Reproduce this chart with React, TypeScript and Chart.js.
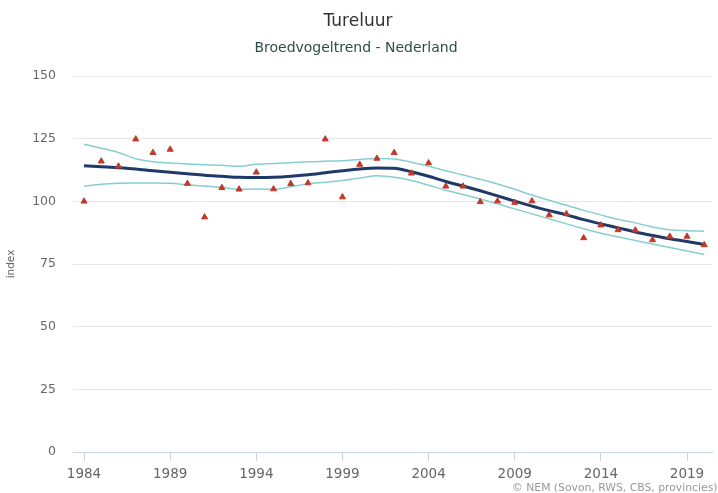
import React, { useEffect, useRef } from 'react';
import { Chart, registerables } from 'chart.js';

Chart.register(...registerables);

const years = [
  1984, 1985, 1986, 1987, 1988, 1989, 1990, 1991, 1992, 1993,
  1994, 1995, 1996, 1997, 1998, 1999, 2000, 2001, 2002, 2003,
  2004, 2005, 2006, 2007, 2008, 2009, 2010, 2011, 2012, 2013,
  2014, 2015, 2016, 2017, 2018, 2019, 2020,
];

const indexValues = [
  100, 116, 114, 124.8, 119.4, 120.7, 107.1, 93.7, 105.4, 104.8,
  111.6, 104.9, 107, 107.3, 124.8, 101.7, 114.7, 117.1, 119.4, 111.2,
  115.3, 106, 106, 99.8, 100.1, 99.5, 100.1, 94.5, 95, 85.4,
  90.5, 88.6, 88.5, 84.6, 86, 86, 82.6,
];

const trendValues = [
  114.2, 113.8, 113.4, 112.9, 112.2, 111.6, 111.0, 110.4, 110.0, 109.6,
  109.5, 109.6, 110.0, 110.6, 111.4, 112.2, 112.9, 113.3, 113.2, 111.8,
  110.0, 107.9, 106.1, 104.2, 102.2, 100.1, 98.1, 96.3, 94.6, 92.7,
  91.0, 89.4, 87.8, 86.4, 85.1, 84.0, 82.8,
];

const upperValues = [
  122.8, 121.2, 119.5, 117.0, 115.8, 115.3, 114.9, 114.6, 114.4, 114.0,
  114.8, 115.1, 115.4, 115.8, 116.0, 116.2, 116.7, 117.1, 116.9, 115.6,
  114.0, 112.2, 110.5, 108.8, 106.9, 104.8, 102.5, 100.4, 98.4, 96.4,
  94.6, 92.8, 91.4, 89.8, 88.7, 88.3, 88.1,
];

const lowerValues = [
  106.0, 106.8, 107.2, 107.3, 107.3, 107.2, 106.6, 106.1, 105.6, 104.8,
  104.9, 104.8, 105.8, 107.0, 107.6, 108.3, 109.3, 110.2, 109.6, 108.3,
  106.4, 104.4, 102.7, 100.9, 99.0, 97.0, 95.0, 93.0, 91.0, 89.1,
  87.3, 85.8, 84.4, 83.0, 81.6, 80.2, 78.8,
];

const xTickYears = [1984, 1989, 1994, 1999, 2004, 2009, 2014, 2019];

const titleText = 'Tureluur';
const subtitleText = 'Broedvogeltrend - Nederland';
const creditsText = '© NEM (Sovon, RWS, CBS, provincies)';
const yAxisTitle = 'index';

const FONT = '"DejaVu Sans", "Noto Sans", sans-serif';

const toXY = (vals: number[]) => years.map((yr, i) => ({ x: yr, y: vals[i] }));

const textPlugin = {
  id: 'texts',
  beforeDraw(chart: any) {
    const ctx = chart.ctx;
    ctx.save();
    ctx.fillStyle = '#ffffff';
    ctx.fillRect(0, 0, chart.width, chart.height);
    ctx.restore();
  },
  afterDraw(chart: any) {
    const ctx = chart.ctx;
    ctx.save();
    ctx.textAlign = 'center';
    ctx.textBaseline = 'middle';
    ctx.fillStyle = '#333333';
    ctx.font = `17px ${FONT}`;
    ctx.fillText(titleText, 358, 22);
    ctx.fillStyle = '#2d4f4a';
    ctx.font = `14px ${FONT}`;
    ctx.fillText(subtitleText, 356, 48);
    ctx.textAlign = 'left';
    ctx.fillStyle = '#999999';
    ctx.font = `10.8px ${FONT}`;
    ctx.fillText(creditsText, 512, 488);
    ctx.restore();
  },
};

export default function App() {
  const ref = useRef<HTMLCanvasElement | null>(null);

  useEffect(() => {
    document.body.style.margin = '0';
    const canvas = ref.current;
    if (!canvas) return;
    const chart = new Chart(canvas, {
      type: 'line',
      data: {
        datasets: [
          {
            label: 'index',
            data: toXY(indexValues),
            showLine: false,
            pointStyle: 'triangle',
            pointRadius: 3.5,
            backgroundColor: '#c0392b',
            borderColor: '#c0392b',
            borderWidth: 1,
            order: 0,
          },
          {
            label: 'trend',
            data: toXY(trendValues),
            borderColor: '#1f3a68',
            borderWidth: 3,
            pointRadius: 0,
            cubicInterpolationMode: 'monotone',
            fill: false,
            order: 1,
          },
          {
            label: 'upper',
            data: toXY(upperValues),
            borderColor: '#86cfcf',
            borderWidth: 1.5,
            pointRadius: 0,
            cubicInterpolationMode: 'monotone',
            fill: false,
            order: 2,
          },
          {
            label: 'lower',
            data: toXY(lowerValues),
            borderColor: '#86cfcf',
            borderWidth: 1.5,
            pointRadius: 0,
            cubicInterpolationMode: 'monotone',
            fill: false,
            order: 2,
          },
        ],
      },
      options: {
        responsive: false,
        animation: false,
        layout: { padding: { top: 76, right: 6, left: 0, bottom: 0 } },
        plugins: {
          legend: { display: false },
          tooltip: { enabled: false },
          title: { display: false },
        },
        scales: {
          x: {
            type: 'linear',
            min: 1983.36,
            max: 2020.45,
            afterBuildTicks: (scale: any) => {
              scale.ticks = xTickYears.map((v) => ({ value: v }));
            },
            afterFit: (scale: any) => {
              scale.height = 41;
            },
            ticks: {
              color: '#666666',
              font: { family: FONT, size: 13.5 },
              padding: 5,
              autoSkip: false,
              maxRotation: 0,
              callback: (v: any) => String(v),
            },
            grid: {
              display: true,
              drawOnChartArea: false,
              drawTicks: true,
              tickLength: 9,
              tickColor: '#ccd6eb',
              color: '#ccd6eb',
            },
            border: { display: true, color: '#ccd6eb' },
          },
          y: {
            min: 0,
            max: 150,
            afterFit: (scale: any) => {
              scale.width = 73;
            },
            ticks: {
              stepSize: 25,
              color: '#666666',
              font: { family: FONT, size: 12.5 },
              padding: 17,
            },
            grid: {
              color: '#e6e6e6',
              drawTicks: false,
            },
            border: { display: false },
            title: {
              display: true,
              text: yAxisTitle,
              color: '#666666',
              font: { family: FONT, size: 10.5 },
              padding: { top: 5, bottom: 0 },
            },
          },
        },
      },
      plugins: [textPlugin],
    } as any);
    return () => chart.destroy();
  }, []);

  return (
    <div style={{ width: 718, height: 493 }}>
      <canvas ref={ref} width={718} height={493} style={{ display: 'block' }} />
    </div>
  );
}
